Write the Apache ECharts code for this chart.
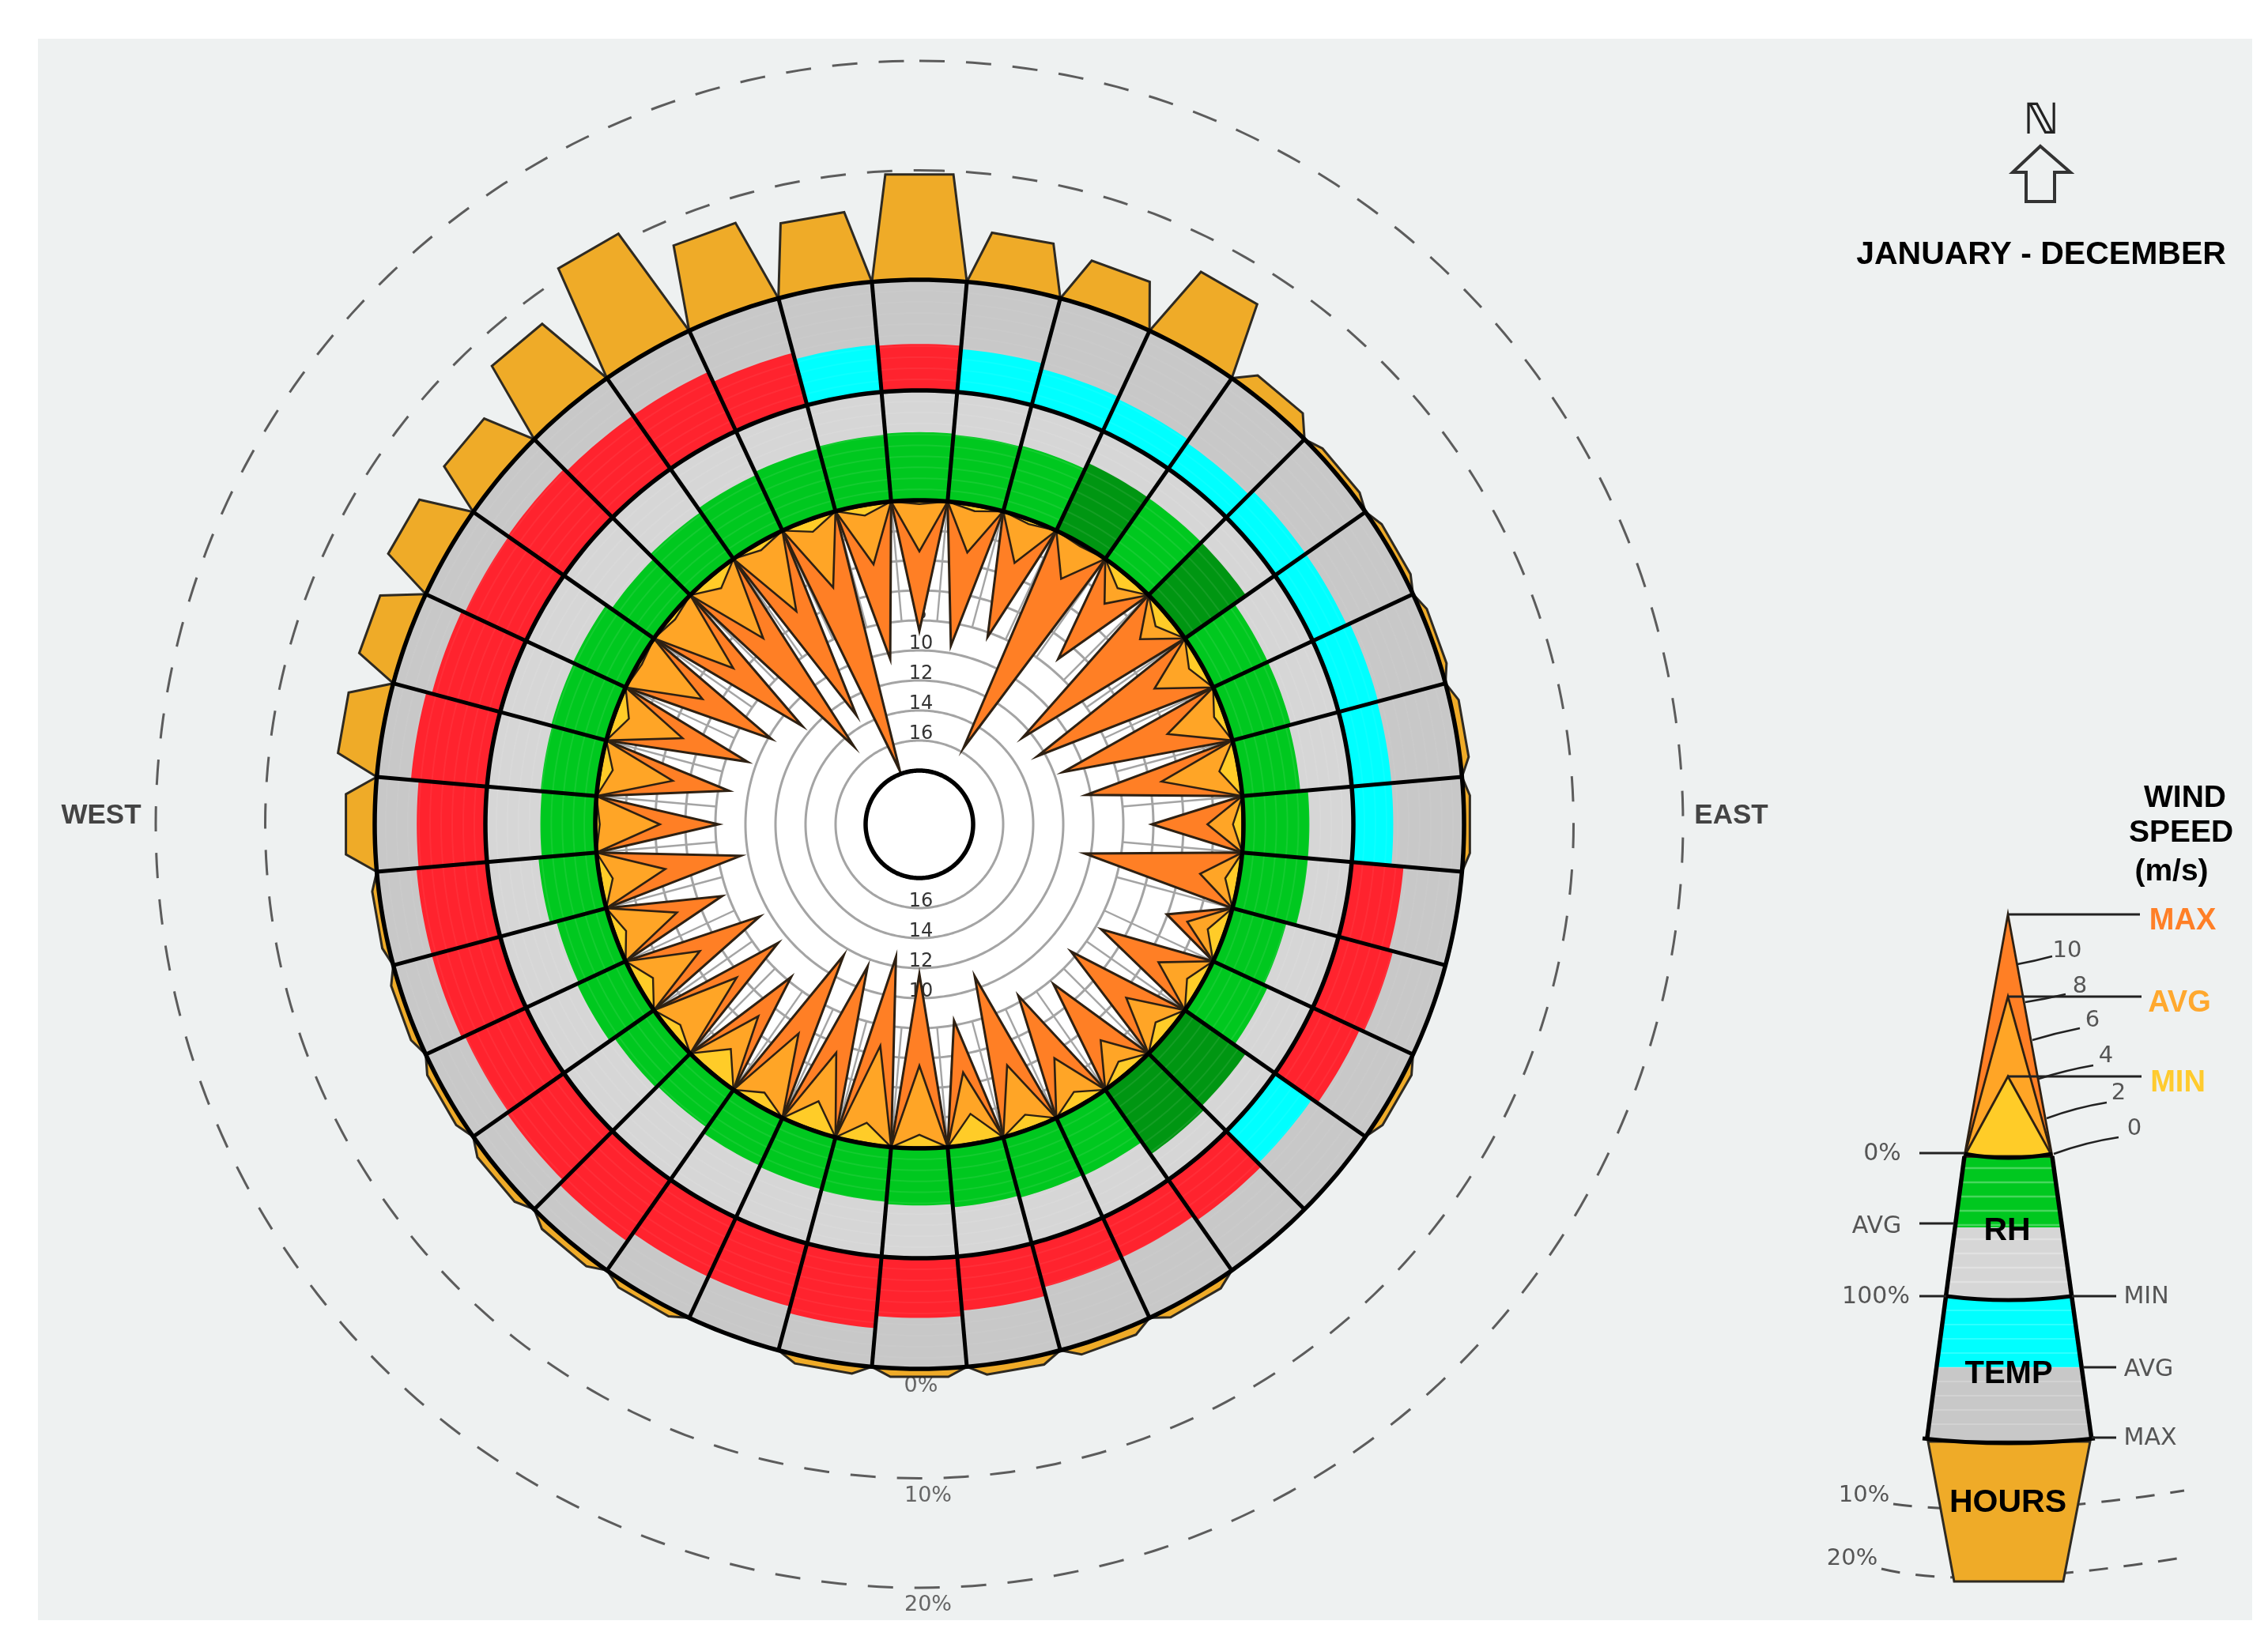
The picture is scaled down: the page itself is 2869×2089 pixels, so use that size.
<!DOCTYPE html>
<html>
<head>
<meta charset="utf-8">
<style>html,body{margin:0;padding:0;background:#fff}#c{width:2869px;height:2089px}</style>
<script src="https://cdn.jsdelivr.net/npm/echarts@6/dist/echarts.min.js"></script>
</head>
<body>
<div id="c"></div>
<script>
// ---- data, one value per 10 degree direction sector, clockwise from north ----
const directions = [0,10,20,30,40,50,60,70,80,90,100,110,120,130,140,150,160,170,180,190,200,210,220,230,240,250,260,270,280,290,300,310,320,330,340,350];
const windMax = [8.7,9.5,8.3,15.7,7.2,12.6,12.5,11.4,10.3,6.1,10.4,4.05,7.6,8.4,7.7,8.4,10.8,8.3,11.6,12.6,11.5,11.5,8.3,9.3,9.3,7.6,9.5,8.2,8.7,9.4,10.2,11.4,14.8,13.2,17.8,10.4];
const windAvg = [3.4,3.2,3.05,2.7,2.4,2.4,3.5,4.0,5.2,2.4,2.6,2.6,3.2,3.6,2.8,3.6,4.5,4.8,5.5,6.6,5.4,5.5,4.9,5.7,4.7,4.4,4.4,4.3,4.9,4.8,4.9,5.4,5.4,5.2,4.8,4.0];
const windMin = [0.25,0.4,0.3,0.2,1.05,1.05,0.85,0.7,1.3,0.7,0.9,1.15,1.0,1.05,0.95,1.0,1.0,2.0,0.9,1.4,1.95,0.95,2.05,0.8,1.1,0.8,0.85,0.3,0.85,1.0,0.25,0.35,1.05,0.5,0.85,0.7];
const rhAvg = [62,61,62,68,68,68,55,55,53,60,60,51,55,68,72,58,57,55,52,50,49,48,42,44,49,47,53,50,51,52,53,47,52,56,59,61];
const rhClass = ['n','n','n','d','n','d','n','n','n','n','n','n','n','d','d','n','n','n','n','n','n','n','n','n','n','n','n','n','n','n','n','n','n','n','n','n'];
const tempAvg = [42,39,34,32,29,34,34,37,36,36,47,51,47,41,45,40,41,49,54,65,59,59,68,63,61,64,64,62,69,64,61,62,59,59,49,43];
const tempClass = ['h','c','c','c','c','c','c','c','c','c','h','h','h','c','h','h','h','h','h','h','h','h','h','h','h','h','h','h','h','h','h','h','h','h','h','c'];
const hoursPct = [9.7,4.7,4.1,6.9,1.6,0.6,0.6,0.6,0.8,0.6,0,0,0.7,0,0,0.8,0.9,0.9,0.8,0.8,0,0.7,0.8,0.8,0.7,0.7,0.6,2.7,3.75,3.75,4.7,4.6,7.5,10.8,7.7,6.6];
const windRingTicks = [2,4,6,8,10,12,14,16];
const windLabelTicks = [8,10,12,14,16];
const hourRingTicks = [10,20];
const hourLabelTicks = [0,10,20];
const bandGridTicks = [10,20,30,40,50,60,70,80,90];

// ---- styles ----
const C = {bg:'#EEF1F1',hours:'#EFAB28',grey1:'#C8C8C8',grey2:'#D6D6D6',hot:'#FF232E',cold:'#00FFFF',rh:'#00C81F',rhDark:'#009612',
  max:'#FF7F25',avg:'#FFA526',min:'#FFCC28',ink:'#000',edge:'#2e2012'};
const CX=1163, CY=1043, HALF=5;
const SANS='"Liberation Sans",Arial,sans-serif', DJ='"DejaVu Sans",sans-serif';

const arc=(api,v,a0,a1,step=1)=>{const p=[];for(let a=a0;a<a1;a+=step)p.push(api.coord([v,a]));p.push(api.coord([v,a1]));return p;};
const band=(api,v0,v1,a)=>arc(api,v1,a-HALF,a+HALF).concat(arc(api,v0,a-HALF,a+HALF).reverse());
const mk=(name,polarIndex,data,renderItem,z)=>({type:'custom',name,coordinateSystem:'polar',polarIndex,data,renderItem,z,silent:true,animation:false,clip:false});
const rows=(arr)=>directions.map((a,i)=>[arr[i],a]);
const tickRows=(t)=>t.map(v=>[v,0]);

const ringItem=(stroke,lineWidth,dash)=>(p,api)=>({type:'polyline',shape:{points:arc(api,api.value(0),0,360)},style:{stroke,lineWidth,fill:'none',lineDash:dash}});
const bandFill=(getFill,v0)=>(p,api)=>({type:'polygon',shape:{points:band(api,v0,api.value(0),api.value(1))},style:{fill:getFill(p.dataIndex),stroke:null}});
const spike=(fill,lw)=>(p,api)=>{const a=api.value(1);return {type:'polygon',shape:{points:[api.coord([0,a-HALF]),api.coord([api.value(0),a]),api.coord([0,a+HALF])]},style:{fill,stroke:C.edge,lineWidth:lw,lineJoin:'miter'}};};
const hourBar=(p,api)=>{const v=api.value(0),a=api.value(1);if(!v)return null;return {type:'polygon',shape:{points:[api.coord([0,a-HALF]),api.coord([v,a-3]),api.coord([v,a+3]),api.coord([0,a+HALF])]},style:{fill:C.hours,stroke:'#2e2a22',lineWidth:3}};};
const spokes=(v0,v1,stroke,lw)=>(p,api)=>{const a=api.value(1)-HALF;return {type:'line',shape:{x1:api.coord([v0,a])[0],y1:api.coord([v0,a])[1],x2:api.coord([v1,a])[0],y2:api.coord([v1,a])[1]},style:{stroke,lineWidth:lw}};};

const W=0,RH=1,T=2,H=3;
const series=[
  mk('hourRings',H,tickRows(hourRingTicks),ringItem('#5c5c5c',3,[32,27]),1),
  mk('hourLabels',H,tickRows(hourLabelTicks),(p,api)=>{const c=api.coord([api.value(0),180]);return {type:'text',style:{text:api.value(0)+'%',x:c[0]+(api.value(0)?11:2),y:c[1]+22,align:'center',verticalAlign:'middle',fill:'#666',fontFamily:DJ,fontSize:27}};},1),
  mk('hours',H,rows(hoursPct),hourBar,2),
  mk('tempBase',T,rows(tempAvg.map(()=>100)),bandFill(()=>C.grey1,0),3),
  mk('tempAvg',T,rows(tempAvg),bandFill(i=>tempClass[i]==='h'?C.hot:C.cold,0),4),
  mk('rhBase',RH,rows(rhAvg.map(()=>100)),bandFill(()=>C.grey2,0),3),
  mk('rhAvg',RH,rows(rhAvg),bandFill(i=>rhClass[i]==='d'?C.rhDark:C.rh,0),4),
  mk('rhGrid',RH,tickRows(bandGridTicks),ringItem('rgba(255,255,255,0.08)',2),5),
  mk('tempGrid',T,tickRows(bandGridTicks),ringItem('rgba(255,255,255,0.05)',2),5),
  mk('disc',W,[[0,0]],(p,api)=>({type:'polygon',shape:{points:arc(api,0,0,360)},style:{fill:'#fff'}}),6),
  mk('windRings',W,tickRows(windRingTicks),ringItem('#a4a4a4',3),7),
  mk('windSpokes',W,rows(directions.map(()=>8)),spokes(0,8,'#a4a4a4',2.4),7),
  mk('windLabels',W,tickRows(windLabelTicks.concat(windLabelTicks)),(p,api)=>{const a=p.dataIndex<windLabelTicks.length?0:180,c=api.coord([api.value(0),a]);return {type:'text',style:{text:String(api.value(0)),x:c[0]+2,y:c[1]-8,align:'center',verticalAlign:'middle',fill:'#333',fontFamily:DJ,fontSize:24}};},8),
  mk('windMax',W,rows(windMax),spike(C.max,3),9),
  mk('windAvg',W,rows(windAvg),spike(C.avg,2.6),10),
  mk('windMin',W,rows(windMin),spike(C.min,2.4),11),
  mk('tempSpokes',T,rows(directions.map(()=>0)),spokes(0,100,C.ink,5),12),
  mk('rhSpokes',RH,rows(directions.map(()=>0)),spokes(0,100,C.ink,5),12),
  mk('rhInnerRing',RH,[[0,0],[100,0]],ringItem(C.ink,5.5),13),
  mk('tempOuterRing',T,[[100,0]],ringItem(C.ink,5.5),13),
  mk('core',W,[[18,0]],(p,api)=>({type:'polygon',shape:{points:arc(api,18,0,360)},style:{fill:'#fff',stroke:C.ink,lineWidth:5.5}}),14)
];

// ---- static key at right, panel, labels ----
const g=[];
const lab=(text,x,y,o={})=>g.push({type:'text',z:o.z||5,style:Object.assign({text,x,y:y+3,align:'center',verticalAlign:'middle',fill:'#555',fontFamily:DJ,fontSize:30},o.s||{})});
const bold=(text,x,y,size,fill='#000')=>lab(text,x,y,{s:{fontFamily:SANS,fontWeight:'bold',fontSize:size,fill}});
const poly=(pts,fill,stroke,lw)=>g.push({type:'polygon',z:3,shape:{points:pts},style:{fill:fill||'none',stroke:stroke||null,lineWidth:lw||0}});
const line=(x1,y1,x2,y2,lw=2.5,stroke='#222',dash)=>g.push({type:'line',z:4,shape:{x1,y1,x2,y2},style:{stroke,lineWidth:lw,lineDash:dash}});
const curve=(x1,y1,cx,cy,x2,y2,lw=2.5,stroke='#222',dash,z=4)=>g.push({type:'bezierCurve',z,shape:{x1,y1,x2,y2,cpx1:cx,cpy1:cy},style:{stroke,lineWidth:lw,fill:'none',lineDash:dash}});
g.push({type:'rect',z:-100,shape:{x:48,y:49,width:2801,height:2001},style:{fill:C.bg}});

lab('WEST',128,1029,{s:{fontFamily:SANS,fontWeight:'bold',fontSize:35,fill:'#444'}});
lab('EAST',2190,1029,{s:{fontFamily:SANS,fontWeight:'bold',fontSize:35,fill:'#444'}});
lab('\u2115',2582,152,{s:{fontFamily:'"DejaVu Serif","DejaVu Sans",serif',fontWeight:'bold',fontSize:54,fill:'#222'}});
poly([[2581,185],[2619,218],[2599,218],[2599,255],[2563,255],[2563,218],[2546,218]],'none','#333',4);
bold('JANUARY - DECEMBER',2582,320,41);
bold('WIND',2764,1007,39);bold('SPEED',2759,1051,39);bold('(m/s)',2747,1100,39);

// dashed guides behind hours key
curve(2395,1903,2540,1922,2763,1886,3,'#555',[24,20],2);
curve(2380,1985,2500,2014,2772,1969,3,'#555',[24,20],2);
lab('10%',2358,1889,{s:{fontSize:29}});lab('20%',2343,1969,{s:{fontSize:29}});
// key bands
const lx=y=>2485+(y-1463)*(2437.5-2485)/(1820-1463), rx=y=>2596+(y-1463)*(2646-2596)/(1820-1463);
const trap=(y0,y1,f,st,lw)=>poly([[lx(y0),y0],[rx(y0),y0],[rx(y1),y1],[lx(y1),y1]],f,st,lw);
poly([[2439,1824],[2644,1824],[2610,2001],[2472,2001]],C.hours,'#2e2a22',3);
trap(1463,1553,C.rh);trap(1553,1643,C.grey2);trap(1643,1730,C.cold);trap(1730,1822,C.grey1);
for(let y=1478;y<1640;y+=18)line(lx(y),y,rx(y),y,2.5,'rgba(255,255,255,0.28)');
for(let y=1658;y<1820;y+=18)line(lx(y),y,rx(y),y,2,'rgba(255,255,255,0.18)');
poly([[2485,1463],[2540,1157],[2596,1463]],C.max,C.edge,2.8);
poly([[2485,1463],[2540,1261],[2596,1463]],C.avg,C.edge,2.8);
poly([[2485,1463],[2540,1362],[2596,1463]],C.min,C.edge,2.8);
line(2485,1463,2437.5,1822,5.5,'#000');line(2596,1463,2646,1822,5.5,'#000');
curve(2485,1460,2540,1470,2596,1460,5,'#000');curve(2462,1640,2540,1650,2621,1640,5,'#000');curve(2432,1820,2540,1832,2650,1820,5,'#000');
line(2540,1157,2707,1157,3);line(2540,1261,2709,1261,3);line(2540,1362,2709,1362,3);
bold('MAX',2761,1163,38,'#FF7F27');bold('AVG',2757,1267,38,'#FFA82E');bold('MIN',2755,1368,38,'#FFCB2E');
[['10',2552,1220,2596,1210,2615,1200],['8',2562,1268,2613,1258,2631,1245],['6',2571,1316,2631,1301,2647,1288],['4',2579,1365,2648,1348,2664,1333],['2',2589,1415,2665,1395,2680,1380],['0',2598,1460,2680,1439,2700,1425]].forEach(r=>{
  curve(r[1],r[2],(r[1]+r[3])/2,r[4]+6,r[3],r[4]);lab(r[0],r[5],r[6],{s:{fontSize:29}});
});
line(2428,1459,2485,1459,3);line(2428,1548,2472,1548,3);line(2428,1640,2462,1640,3);
line(2621,1640,2677,1640,3);line(2635,1730,2677,1730,3);line(2646,1819,2677,1819,3);
lab('0%',2381,1457);lab('AVG',2374,1549);lab('100%',2373,1638);
lab('MIN',2715,1638);lab('AVG',2718,1730);lab('MAX',2720,1817);
bold('RH',2539,1555,41);bold('TEMP',2541,1736,40);bold('HOURS',2540,1899,41);

// ---- polar systems: wind (inverted), relative humidity, temperature, hours ----
const radii=[[68,410],[410,549],[549,689],[689,966]];
const polar=radii.map(r=>({center:[CX,CY],radius:r}));
const angleAxis=radii.map((r,i)=>({polarIndex:i,type:'value',min:0,max:360,startAngle:90,clockwise:true,show:false}));
const radiusAxis=[
 {polarIndex:W,type:'value',min:0,max:18,inverse:true,show:false},
 {polarIndex:RH,type:'value',min:0,max:100,show:false},
 {polarIndex:T,type:'value',min:0,max:100,show:false},
 {polarIndex:H,type:'value',min:0,max:20,show:false}
];
const chart=echarts.init(document.getElementById('c'),null,{renderer:'canvas'});
chart.setOption({backgroundColor:'#fff',animation:false,polar,angleAxis,radiusAxis,series,graphic:{elements:g}});
</script>
</body>
</html>
